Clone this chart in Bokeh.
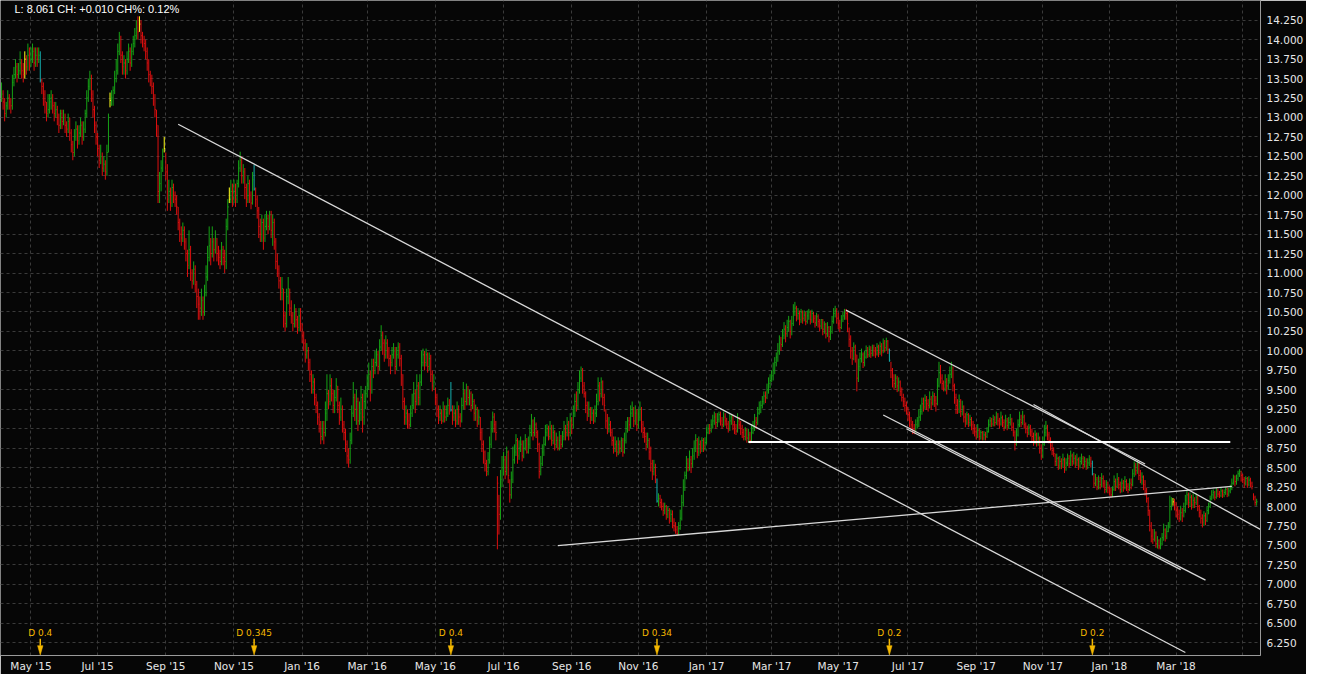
import numpy as np
import pandas as pd
from bokeh.plotting import figure
from bokeh.models import Range1d, FixedTicker, Label, NumeralTickFormatter, ColumnDataSource
from bokeh.embed import file_html
from bokeh.resources import INLINE
from bokeh.core.properties import value

# ---------------- data ----------------
first_date = "2015-04-06"

closes = [
    # Apr 2015
    13.30, 13.20, 13.05, 13.15, 13.25, 13.20, 13.15, 13.45, 13.55, 13.65, 13.55, 13.60, 13.70, 13.60, 13.55, 13.75, 13.65, 13.80, 13.70,
    # May 2015
    13.75, 13.85, 13.70, 13.80, 13.75, 13.80, 13.48, 13.40, 13.30, 13.20, 13.05, 13.10, 13.20, 13.25, 13.15, 13.05, 13.10, 13.00, 12.90, 13.05, 12.95,
    # Jun 2015
    13.00, 12.90, 12.85, 12.95, 12.80, 12.65, 12.55, 12.75, 12.85, 12.70, 12.80, 12.90, 12.75, 12.85, 13.05, 13.25, 13.40, 13.50, 13.30, 13.10, 12.90, 12.75,
    # Jul 2015
    12.60, 12.45, 12.50, 12.35, 12.40, 12.30, 12.55, 13.00, 13.22, 13.25, 13.35, 13.50, 13.60, 13.85, 14.00, 13.80, 13.65, 13.70, 13.60, 13.75, 13.85, 13.70, 13.85,
    # Aug 2015
    13.95, 14.05, 14.15, 14.10, 14.20, 14.05, 14.00, 13.95, 13.85, 13.70, 13.55, 13.50, 13.40, 13.25, 13.10, 12.90, 12.05, 12.15, 12.35, 12.50, 12.60,
    # Sep 2015
    12.30, 11.95, 12.05, 11.90, 12.10, 12.00, 11.95, 11.85, 11.65, 11.50, 11.45, 11.55, 11.40, 11.25, 11.10, 11.30, 11.00, 10.90, 11.05, 10.85, 10.70, 10.60,
    # Oct 2015
    10.55, 10.65, 10.50, 10.75, 10.95, 11.20, 11.35, 11.25, 11.40, 11.30, 11.45, 11.25, 11.20, 11.15, 11.30, 11.20, 11.15, 11.60, 11.85, 11.95, 12.05, 11.95,
    # Nov 2015
    12.05, 11.95, 12.15, 12.35, 12.45, 12.25, 12.30, 12.10, 11.95, 12.15, 12.00, 11.90, 12.20, 12.08, 11.95, 11.80, 11.60, 11.50, 11.65, 11.45, 11.60,
    # Dec 2015
    11.70, 11.60, 11.75, 11.55, 11.65, 11.40, 11.15, 11.05, 10.90, 10.75, 10.80, 10.45, 10.35, 10.70, 10.80, 10.55, 10.45, 10.35, 10.50, 10.40, 10.30, 10.45, 10.35,
    # Jan 2016
    10.20, 10.10, 9.95, 10.00, 9.85, 9.70, 9.55, 9.60, 9.40, 9.30, 9.15, 9.05, 8.90, 9.00, 8.95, 9.20, 9.45, 9.35, 9.55, 9.45, 9.30,
    # Feb 2016
    9.40, 9.55, 9.30, 9.15, 9.25, 9.05, 8.95, 8.80, 8.65, 8.60, 8.85, 9.20, 9.40, 9.25, 9.35, 9.10, 9.20, 9.40, 9.15, 9.35, 9.45,
    # Mar 2016
    9.55, 9.70, 9.50, 9.80, 9.75, 9.85, 9.95, 9.80, 10.05, 10.20, 10.10, 9.95, 10.10, 10.00, 9.90, 9.85, 9.95, 10.00, 9.80, 9.95, 10.05, 9.90, 9.70,
    # Apr 2016
    9.35, 9.15, 9.20, 9.10, 9.05, 9.20, 9.30, 9.45, 9.35, 9.55, 9.40, 9.60, 9.85, 9.95, 9.85, 9.95, 9.80, 9.90, 9.70, 9.55, 9.60,
    # May 2016
    9.40, 9.25, 9.15, 9.20, 9.10, 9.25, 9.15, 9.20, 9.30, 9.25, 9.24, 9.15, 9.20, 9.10, 9.25, 9.15, 9.10, 9.30, 9.45, 9.35, 9.50, 9.40,
    # Jun 2016
    9.45, 9.30, 9.35, 9.20, 9.25, 9.10, 9.15, 8.95, 8.80, 8.70, 8.55, 8.45, 8.60, 8.80, 9.00, 9.15, 9.05, 8.95, 8.30, 7.90, 8.35, 8.50,
    # Jul 2016
    8.60, 8.45, 8.70, 8.40, 8.15, 8.35, 8.60, 8.70, 8.85, 8.65, 8.75, 8.80, 8.65, 8.75, 8.85, 8.70, 8.80, 8.95, 9.10, 8.95, 9.05,
    # Aug 2016
    8.95, 8.80, 8.45, 8.55, 8.70, 8.80, 8.95, 9.00, 8.90, 9.00, 8.85, 8.95, 8.80, 8.85, 8.75, 8.85, 8.80, 8.90, 9.00, 8.95, 9.05, 8.95, 9.10,
    # Sep 2016
    9.05, 9.20, 9.35, 9.30, 9.50, 9.65, 9.75, 9.55, 9.45, 9.30, 9.20, 9.25, 9.15, 9.20, 9.10, 9.20, 9.35, 9.55, 9.45, 9.60, 9.40, 9.30,
    # Oct 2016
    9.10, 9.00, 9.05, 8.95, 8.85, 8.75, 8.80, 8.70, 8.80, 8.75, 8.85, 8.70, 8.85, 9.00, 9.10, 9.05, 9.20, 9.25, 9.10, 9.20, 9.05,
    # Nov 2016
    9.15, 9.25, 9.05, 8.95, 8.90, 8.80, 8.85, 8.70, 8.55, 8.45, 8.50, 8.40, 8.07, 8.10, 8.05, 8.00, 7.95, 8.00, 7.90, 7.95, 7.85, 7.90,
    # Dec 2016
    7.80, 7.75, 7.70, 7.65, 7.72, 7.85, 8.05, 8.25, 8.40, 8.55, 8.50, 8.60, 8.55, 8.65, 8.75, 8.85, 8.70, 8.80, 8.75, 8.85, 8.78, 8.82,
    # Jan 2017
    8.95, 9.00, 8.98, 9.05, 9.10, 9.15, 9.08, 9.12, 9.18, 9.10, 9.05, 9.15, 9.10, 9.06, 9.00, 9.10, 9.15, 9.05, 9.00, 8.97, 9.10, 9.05,
    # Feb 2017
    9.00, 8.95, 8.90, 8.98, 8.88, 8.92, 8.85, 8.95, 9.02, 9.10, 9.08, 9.20, 9.25, 9.30, 9.35, 9.42, 9.40, 9.50, 9.58, 9.62,
    # Mar 2017
    9.68, 9.75, 9.85, 9.92, 10.00, 10.10, 10.08, 10.20, 10.28, 10.22, 10.30, 10.38, 10.25, 10.35, 10.50, 10.55, 10.45, 10.48, 10.40, 10.50, 10.42, 10.46, 10.38,
    # Apr 2017
    10.45, 10.50, 10.40, 10.48, 10.42, 10.36, 10.44, 10.38, 10.32, 10.40, 10.28, 10.34, 10.22, 10.30, 10.18, 10.25, 10.38, 10.48, 10.52, 10.42,
    # May 2017
    10.35, 10.30, 10.40, 10.45, 10.50, 10.48, 10.35, 10.15, 10.00, 9.90, 10.05, 9.95, 9.65, 9.80, 9.90, 9.95, 9.85, 9.92, 10.00, 9.95, 10.02, 9.97, 10.04,
    # Jun 2017
    10.00, 9.96, 10.05, 9.98, 10.06, 10.00, 10.10, 10.04, 10.12, 10.02, 9.88, 9.75, 9.62, 9.58, 9.65, 9.55, 9.60, 9.48, 9.40, 9.35, 9.30, 9.25,
    # Jul 2017
    9.18, 9.10, 9.05, 9.00, 8.98, 9.05, 9.10, 9.15, 9.22, 9.32, 9.28, 9.36, 9.32, 9.30, 9.38, 9.33, 9.42, 9.36, 9.32, 9.55, 9.72,
    # Aug 2017
    9.65, 9.58, 9.52, 9.60, 9.55, 9.62, 9.70, 9.78, 9.55, 9.40, 9.30, 9.25, 9.35, 9.22, 9.28, 9.15, 9.10, 9.18, 9.08, 9.12, 9.05, 9.00, 8.96,
    # Sep 2017
    8.92, 8.98, 8.90, 8.95, 8.88, 8.92, 8.90, 8.96, 9.05, 9.10, 9.06, 9.12, 9.08, 9.15, 9.10, 9.06, 9.14, 9.08, 9.02, 9.10, 9.04,
    # Oct 2017
    9.08, 9.12, 9.02, 8.95, 8.80, 8.92, 9.05, 9.12, 9.08, 9.15, 9.05, 9.00, 8.95, 9.02, 8.96, 8.90, 8.85, 8.92, 8.82, 8.88, 8.75, 8.65,
    # Nov 2017
    8.80, 8.95, 9.02, 8.92, 8.85, 8.78, 8.72, 8.68, 8.58, 8.62, 8.52, 8.58, 8.55, 8.60, 8.50, 8.56, 8.62, 8.55, 8.65, 8.58, 8.62, 8.56,
    # Dec 2017
    8.60, 8.52, 8.58, 8.62, 8.54, 8.58, 8.52, 8.56, 8.60, 8.55, 8.42, 8.30, 8.35, 8.25, 8.32, 8.28, 8.36, 8.30, 8.22, 8.28, 8.24,
    # Jan 2018
    8.20, 8.15, 8.22, 8.32, 8.26, 8.35, 8.28, 8.22, 8.30, 8.25, 8.32, 8.26, 8.22, 8.30, 8.28, 8.42, 8.52, 8.46, 8.55, 8.40, 8.34, 8.38, 8.28,
    # Feb 2018
    8.20, 8.10, 7.95, 7.75, 7.62, 7.58, 7.66, 7.52, 7.56, 7.48, 7.52, 7.60, 7.70, 7.62, 7.68, 7.75, 8.00, 8.08, 8.06, 8.02,
    # Mar 2018
    7.95, 7.90, 7.85, 7.92, 7.88, 7.95, 8.08, 8.15, 8.05, 8.12, 8.02, 8.08, 8.05, 8.12, 8.00, 7.92, 7.85, 7.80, 7.88, 7.82, 7.95, 8.00,
    # Apr 2018
    8.10, 8.15, 8.18, 8.12, 8.20, 8.16, 8.14, 8.20, 8.15, 8.18, 8.22, 8.16, 8.20, 8.24, 8.30, 8.38, 8.32, 8.36, 8.42, 8.45, 8.40,
    # May 2018
    8.35, 8.30, 8.36, 8.28, 8.34, 8.30, 8.26, 8.12, 8.051, 8.061,
]

highs = [
    13.45, 13.35, 13.25, 13.20, 13.35, 13.30, 13.25, 13.55, 13.65, 13.75, 13.70, 13.70, 13.85, 13.75, 13.70, 13.85, 13.80, 13.95, 13.90,
    13.90, 13.95, 13.90, 13.90, 13.90, 13.90, 13.85, 13.50, 13.45, 13.35, 13.20, 13.30, 13.30, 13.35, 13.30, 13.20, 13.20, 13.15, 13.05, 13.10, 13.10,
    13.10, 13.05, 12.95, 13.05, 13.00, 12.85, 12.70, 12.85, 12.95, 12.90, 12.90, 13.00, 12.95, 12.95, 13.10, 13.35, 13.50, 13.60, 13.55, 13.35, 13.15, 12.95,
    12.80, 12.65, 12.65, 12.55, 12.50, 12.45, 12.65, 13.05, 13.32, 13.35, 13.40, 13.60, 13.75, 13.95, 14.10, 14.05, 13.85, 13.80, 13.75, 13.85, 13.95, 13.90, 13.95,
    14.05, 14.15, 14.25, 14.30, 14.30, 14.25, 14.10, 14.05, 14.00, 13.90, 13.75, 13.60, 13.55, 13.45, 13.30, 13.10, 12.90, 12.30, 12.45, 12.60, 12.75,
    12.55, 12.40, 12.20, 12.10, 12.20, 12.15, 12.05, 12.00, 11.85, 11.70, 11.60, 11.65, 11.60, 11.45, 11.30, 11.55, 11.35, 11.05, 11.15, 11.10, 10.90, 10.80,
    10.70, 10.80, 10.70, 10.85, 11.10, 11.35, 11.60, 11.45, 11.60, 11.45, 11.55, 11.45, 11.35, 11.30, 11.40, 11.35, 11.30, 11.70, 11.95, 12.10, 12.20, 12.15,
    12.20, 12.15, 12.20, 12.45, 12.56, 12.50, 12.40, 12.35, 12.15, 12.25, 12.20, 12.05, 12.30, 12.39, 12.10, 12.00, 11.85, 11.70, 11.75, 11.70, 11.75,
    11.80, 11.75, 11.80, 11.80, 11.75, 11.70, 11.45, 11.25, 11.10, 10.95, 10.95, 10.80, 10.50, 10.80, 10.95, 10.80, 10.65, 10.50, 10.60, 10.55, 10.45, 10.55, 10.55,
    10.35, 10.25, 10.15, 10.10, 10.05, 9.90, 9.75, 9.70, 9.65, 9.45, 9.35, 9.20, 9.10, 9.10, 9.10, 9.35, 9.70, 9.50, 9.70, 9.65, 9.50,
    9.50, 9.65, 9.55, 9.35, 9.40, 9.30, 9.10, 9.00, 8.85, 8.75, 8.95, 9.30, 9.60, 9.45, 9.50, 9.40, 9.35, 9.55, 9.45, 9.50, 9.55,
    9.70, 9.85, 9.75, 9.90, 9.90, 10.00, 10.03, 10.00, 10.15, 10.33, 10.25, 10.15, 10.20, 10.15, 10.05, 9.95, 10.05, 10.10, 10.05, 10.05, 10.11, 10.10, 9.95,
    9.70, 9.40, 9.30, 9.25, 9.20, 9.30, 9.45, 9.60, 9.50, 9.70, 9.60, 9.70, 10.00, 10.03, 10.00, 10.03, 9.98, 9.98, 9.95, 9.75, 9.70,
    9.53, 9.45, 9.30, 9.30, 9.25, 9.35, 9.30, 9.30, 9.40, 9.38, 9.60, 9.30, 9.30, 9.25, 9.35, 9.30, 9.20, 9.40, 9.60, 9.50, 9.58, 9.55,
    9.50, 9.48, 9.45, 9.38, 9.31, 9.28, 9.25, 9.15, 9.00, 8.85, 8.72, 8.60, 8.70, 8.90, 9.10, 9.22, 9.20, 9.10, 8.39, 8.15, 8.47, 8.65,
    8.70, 8.65, 8.77, 8.72, 8.35, 8.45, 8.77, 8.80, 8.93, 8.88, 8.85, 8.90, 8.85, 8.85, 8.93, 8.88, 8.90, 9.05, 9.19, 9.12, 9.15,
    9.08, 8.98, 8.82, 8.65, 8.80, 8.90, 9.05, 9.06, 9.04, 9.10, 9.05, 9.05, 8.98, 8.95, 8.90, 8.97, 8.92, 8.97, 9.10, 9.05, 9.15, 9.10, 9.20,
    9.15, 9.30, 9.45, 9.48, 9.60, 9.75, 9.80, 9.78, 9.60, 9.48, 9.35, 9.35, 9.28, 9.28, 9.25, 9.30, 9.45, 9.66, 9.60, 9.66, 9.62, 9.45,
    9.25, 9.19, 9.15, 9.10, 9.00, 8.90, 8.90, 8.85, 8.89, 8.85, 8.89, 8.88, 8.95, 9.10, 9.15, 9.15, 9.30, 9.35, 9.28, 9.30, 9.25,
    9.25, 9.35, 9.28, 9.10, 9.02, 8.95, 8.95, 8.88, 8.77, 8.60, 8.60, 8.55, 8.36, 8.17, 8.15, 8.10, 8.05, 8.05, 8.02, 8.00, 7.98, 7.96,
    7.95, 7.85, 7.80, 7.75, 7.80, 7.96, 8.15, 8.35, 8.45, 8.65, 8.62, 8.72, 8.65, 8.75, 8.85, 8.93, 8.88, 8.90, 8.85, 8.89, 8.88, 8.89,
    9.02, 9.06, 9.06, 9.12, 9.18, 9.22, 9.20, 9.20, 9.22, 9.22, 9.15, 9.22, 9.20, 9.14, 9.10, 9.19, 9.19, 9.18, 9.10, 9.06, 9.20, 9.15,
    9.10, 9.05, 9.00, 9.02, 9.00, 9.00, 8.96, 9.06, 9.10, 9.19, 9.15, 9.28, 9.35, 9.36, 9.42, 9.48, 9.48, 9.58, 9.66, 9.70,
    9.75, 9.85, 9.92, 9.98, 10.10, 10.20, 10.18, 10.28, 10.37, 10.33, 10.40, 10.45, 10.40, 10.45, 10.60, 10.63, 10.58, 10.55, 10.52, 10.54, 10.52, 10.52, 10.50,
    10.52, 10.54, 10.52, 10.53, 10.50, 10.46, 10.49, 10.47, 10.41, 10.41, 10.41, 10.38, 10.36, 10.37, 10.32, 10.32, 10.45, 10.55, 10.58, 10.55,
    10.49, 10.40, 10.46, 10.50, 10.54, 10.54, 10.50, 10.30, 10.20, 10.05, 10.11, 10.08, 9.95, 9.90, 9.98, 10.03, 9.98, 10.00, 10.07, 10.05, 10.07, 10.06, 10.08,
    10.08, 10.05, 10.10, 10.08, 10.12, 10.10, 10.16, 10.14, 10.17, 10.14, 10.03, 9.86, 9.78, 9.70, 9.70, 9.68, 9.66, 9.62, 9.53, 9.45, 9.40, 9.35,
    9.28, 9.22, 9.15, 9.10, 9.06, 9.12, 9.15, 9.25, 9.31, 9.40, 9.40, 9.44, 9.42, 9.38, 9.48, 9.42, 9.48, 9.46, 9.42, 9.65, 9.86,
    9.82, 9.70, 9.62, 9.70, 9.65, 9.70, 9.80, 9.86, 9.80, 9.58, 9.45, 9.38, 9.44, 9.38, 9.36, 9.30, 9.20, 9.22, 9.20, 9.18, 9.15, 9.10, 9.06,
    9.02, 9.06, 9.00, 8.98, 8.97, 8.97, 8.96, 9.02, 9.12, 9.15, 9.14, 9.18, 9.16, 9.22, 9.20, 9.14, 9.22, 9.17, 9.12, 9.18, 9.14,
    9.15, 9.19, 9.14, 9.08, 8.98, 9.00, 9.12, 9.22, 9.18, 9.23, 9.18, 9.08, 9.04, 9.06, 9.05, 9.00, 8.95, 8.98, 8.95, 8.95, 8.90, 8.80,
    8.90, 9.05, 9.10, 9.05, 8.96, 8.89, 8.82, 8.76, 8.68, 8.68, 8.64, 8.65, 8.62, 8.68, 8.63, 8.62, 8.68, 8.66, 8.72, 8.68, 8.70, 8.66,
    8.68, 8.63, 8.64, 8.68, 8.65, 8.64, 8.62, 8.62, 8.66, 8.64, 8.59, 8.43, 8.42, 8.38, 8.40, 8.38, 8.43, 8.40, 8.34, 8.34, 8.32,
    8.26, 8.24, 8.26, 8.40, 8.36, 8.43, 8.38, 8.32, 8.36, 8.34, 8.39, 8.35, 8.30, 8.36, 8.36, 8.48, 8.58, 8.56, 8.59, 8.56, 8.47, 8.44, 8.40,
    8.34, 8.24, 8.12, 7.96, 7.80, 7.71, 7.71, 7.68, 7.62, 7.58, 7.60, 7.66, 7.78, 7.72, 7.76, 7.80, 8.14, 8.12, 8.11, 8.10,
    8.06, 8.00, 7.96, 8.01, 7.98, 8.05, 8.15, 8.20, 8.18, 8.18, 8.15, 8.17, 8.12, 8.17, 8.14, 8.02, 7.96, 7.90, 7.94, 7.92, 8.00, 8.05,
    8.14, 8.21, 8.22, 8.20, 8.24, 8.23, 8.20, 8.24, 8.22, 8.22, 8.25, 8.24, 8.24, 8.28, 8.36, 8.41, 8.40, 8.41, 8.46, 8.48, 8.46,
    8.42, 8.38, 8.39, 8.38, 8.39, 8.37, 8.32, 8.17, 8.14, 8.10,
]

lows = [
    13.20, 13.10, 12.95, 13.00, 13.10, 13.10, 13.05, 13.10, 13.40, 13.50, 13.45, 13.50, 13.55, 13.50, 13.45, 13.50, 13.55, 13.60, 13.60,
    13.65, 13.70, 13.60, 13.65, 13.65, 13.70, 13.45, 13.30, 13.15, 13.05, 12.95, 13.00, 13.05, 13.10, 13.05, 12.95, 13.00, 12.90, 12.80, 12.85, 12.85,
    12.90, 12.80, 12.75, 12.80, 12.70, 12.55, 12.45, 12.50, 12.70, 12.60, 12.65, 12.75, 12.65, 12.70, 12.80, 13.00, 13.20, 13.35, 13.20, 13.00, 12.80, 12.65,
    12.50, 12.35, 12.40, 12.25, 12.30, 12.20, 12.25, 12.55, 13.13, 13.15, 13.15, 13.30, 13.45, 13.55, 13.80, 13.70, 13.55, 13.55, 13.50, 13.55, 13.70, 13.60, 13.65,
    13.80, 13.90, 14.00, 14.00, 14.10, 13.95, 13.90, 13.85, 13.75, 13.60, 13.45, 13.40, 13.30, 13.15, 13.00, 12.75, 11.90, 11.90, 12.05, 12.30, 12.55,
    12.20, 11.80, 11.90, 11.80, 11.85, 11.90, 11.85, 11.75, 11.55, 11.40, 11.35, 11.40, 11.30, 11.15, 10.95, 11.05, 10.90, 10.80, 10.85, 10.75, 10.55, 10.40,
    10.40, 10.45, 10.40, 10.45, 10.70, 10.90, 11.15, 11.10, 11.20, 11.15, 11.25, 11.15, 11.10, 11.05, 11.10, 11.10, 11.00, 11.05, 11.55, 11.90, 11.90, 11.85,
    11.90, 11.85, 11.90, 12.10, 12.30, 12.15, 12.15, 11.95, 11.85, 11.90, 11.90, 11.82, 11.88, 12.06, 11.85, 11.70, 11.45, 11.40, 11.40, 11.30, 11.40,
    11.55, 11.50, 11.55, 11.45, 11.35, 11.30, 11.05, 10.95, 10.80, 10.65, 10.65, 10.30, 10.25, 10.30, 10.60, 10.45, 10.35, 10.25, 10.30, 10.30, 10.22, 10.25, 10.25,
    10.10, 10.00, 9.85, 9.90, 9.75, 9.60, 9.45, 9.45, 9.30, 9.20, 9.05, 8.95, 8.80, 8.85, 8.80, 8.90, 9.10, 9.25, 9.30, 9.35, 9.20,
    9.20, 9.35, 9.20, 9.05, 9.10, 8.95, 8.85, 8.70, 8.55, 8.50, 8.55, 8.80, 9.15, 9.10, 9.05, 8.97, 9.05, 9.10, 8.95, 9.05, 9.25,
    9.40, 9.50, 9.35, 9.45, 9.65, 9.70, 9.80, 9.70, 9.75, 10.00, 9.95, 9.86, 9.90, 9.90, 9.80, 9.70, 9.80, 9.90, 9.70, 9.75, 9.90, 9.80, 9.55,
    9.25, 9.05, 9.05, 9.00, 9.00, 9.02, 9.15, 9.25, 9.20, 9.30, 9.30, 9.30, 9.55, 9.80, 9.75, 9.80, 9.72, 9.75, 9.60, 9.48, 9.50,
    9.30, 9.15, 9.06, 9.10, 9.06, 9.08, 9.08, 9.10, 9.15, 9.18, 9.22, 9.05, 9.10, 9.02, 9.05, 9.05, 9.02, 9.08, 9.25, 9.25, 9.30, 9.30,
    9.30, 9.22, 9.25, 9.10, 9.10, 9.02, 9.05, 8.85, 8.70, 8.55, 8.45, 8.39, 8.40, 8.55, 8.75, 8.95, 8.95, 8.85, 7.45, 7.64, 7.83, 8.25,
    8.40, 8.35, 8.40, 8.30, 8.05, 8.10, 8.30, 8.55, 8.65, 8.55, 8.60, 8.70, 8.58, 8.62, 8.72, 8.68, 8.68, 8.75, 8.90, 8.85, 8.90,
    8.88, 8.70, 8.36, 8.40, 8.52, 8.65, 8.78, 8.90, 8.85, 8.86, 8.78, 8.80, 8.72, 8.75, 8.72, 8.72, 8.74, 8.76, 8.85, 8.85, 8.90, 8.85, 8.90,
    8.93, 9.00, 9.15, 9.22, 9.25, 9.45, 9.60, 9.45, 9.40, 9.20, 9.10, 9.15, 9.06, 9.10, 9.06, 9.08, 9.15, 9.30, 9.35, 9.40, 9.30, 9.22,
    9.00, 8.93, 8.95, 8.90, 8.78, 8.68, 8.70, 8.64, 8.66, 8.68, 8.70, 8.64, 8.68, 8.81, 8.95, 8.97, 9.00, 9.15, 9.02, 9.05, 8.97,
    9.00, 9.10, 8.95, 8.88, 8.82, 8.72, 8.75, 8.60, 8.45, 8.34, 8.40, 8.30, 8.05, 8.00, 7.98, 7.95, 7.88, 7.90, 7.83, 7.85, 7.78, 7.80,
    7.72, 7.68, 7.65, 7.62, 7.63, 7.70, 7.82, 8.00, 8.20, 8.35, 8.45, 8.46, 8.43, 8.50, 8.60, 8.70, 8.62, 8.65, 8.68, 8.70, 8.70, 8.72,
    8.80, 8.93, 8.93, 8.95, 9.00, 9.05, 9.00, 9.02, 9.08, 9.04, 9.00, 9.02, 9.04, 9.00, 8.95, 8.97, 9.05, 8.98, 8.93, 8.92, 8.95, 9.00,
    8.92, 8.88, 8.85, 8.85, 8.82, 8.82, 8.81, 8.82, 8.93, 8.97, 9.00, 9.05, 9.18, 9.20, 9.26, 9.31, 9.33, 9.38, 9.45, 9.52,
    9.60, 9.62, 9.70, 9.80, 9.86, 9.95, 10.00, 10.05, 10.15, 10.11, 10.18, 10.25, 10.16, 10.20, 10.32, 10.45, 10.38, 10.40, 10.33, 10.36, 10.35, 10.38, 10.33,
    10.35, 10.40, 10.34, 10.36, 10.36, 10.30, 10.32, 10.30, 10.25, 10.28, 10.20, 10.22, 10.16, 10.18, 10.11, 10.14, 10.22, 10.35, 10.43, 10.35,
    10.28, 10.24, 10.28, 10.37, 10.40, 10.40, 10.24, 10.05, 9.90, 9.82, 9.88, 9.85, 9.48, 9.60, 9.75, 9.85, 9.78, 9.80, 9.90, 9.91, 9.92, 9.91, 9.93,
    9.93, 9.91, 9.94, 9.92, 9.95, 9.93, 9.97, 9.98, 10.00, 9.96, 9.86, 9.65, 9.53, 9.50, 9.52, 9.47, 9.48, 9.42, 9.35, 9.28, 9.22, 9.18,
    9.10, 9.02, 8.98, 8.93, 8.93, 8.95, 9.00, 9.02, 9.10, 9.18, 9.22, 9.25, 9.24, 9.22, 9.26, 9.24, 9.30, 9.28, 9.22, 9.30, 9.53,
    9.58, 9.50, 9.48, 9.48, 9.44, 9.50, 9.58, 9.65, 9.48, 9.32, 9.19, 9.19, 9.20, 9.15, 9.17, 9.08, 9.02, 9.05, 9.02, 9.03, 8.98, 8.93, 8.90,
    8.86, 8.88, 8.85, 8.86, 8.85, 8.85, 8.85, 8.88, 8.95, 9.02, 9.02, 9.03, 9.03, 9.05, 9.04, 9.00, 9.04, 9.02, 8.97, 9.00, 8.98,
    9.00, 9.04, 8.97, 8.90, 8.72, 8.78, 8.90, 9.02, 9.02, 9.05, 9.00, 8.94, 8.89, 8.92, 8.90, 8.84, 8.78, 8.80, 8.77, 8.78, 8.68, 8.60,
    8.62, 8.78, 8.90, 8.85, 8.81, 8.72, 8.66, 8.64, 8.52, 8.52, 8.47, 8.48, 8.48, 8.50, 8.43, 8.46, 8.52, 8.50, 8.52, 8.52, 8.54, 8.50,
    8.52, 8.47, 8.49, 8.54, 8.48, 8.50, 8.47, 8.48, 8.52, 8.50, 8.40, 8.24, 8.26, 8.21, 8.22, 8.22, 8.25, 8.24, 8.17, 8.18, 8.17,
    8.14, 8.11, 8.12, 8.20, 8.20, 8.24, 8.22, 8.17, 8.18, 8.19, 8.22, 8.20, 8.17, 8.20, 8.22, 8.26, 8.38, 8.40, 8.42, 8.34, 8.30, 8.28, 8.21,
    8.14, 8.05, 7.88, 7.68, 7.54, 7.52, 7.55, 7.47, 7.46, 7.45, 7.45, 7.50, 7.56, 7.55, 7.58, 7.67, 7.72, 7.95, 8.01, 7.95,
    7.86, 7.83, 7.80, 7.82, 7.80, 7.86, 7.92, 8.02, 7.98, 8.00, 7.96, 7.98, 7.98, 8.02, 7.94, 7.86, 7.78, 7.73, 7.75, 7.76, 7.80, 7.90,
    7.98, 8.08, 8.10, 8.08, 8.10, 8.12, 8.11, 8.12, 8.11, 8.12, 8.15, 8.12, 8.13, 8.17, 8.21, 8.28, 8.26, 8.28, 8.33, 8.38, 8.32,
    8.30, 8.24, 8.27, 8.24, 8.26, 8.25, 8.22, 8.08, 8.01, 8.01,
]

dividend_dates = ["2015-05-11", "2015-11-19", "2016-05-16", "2016-11-17", "2017-06-15", "2017-12-15"]
dividend_labels = ["D 0.4", "D 0.345", "D 0.4", "D 0.34", "D 0.2", "D 0.2"]
doji_dates = ["2015-04-27", "2015-07-13", "2015-08-07", "2015-08-31", "2015-10-28", "2018-02-27"]

# hand-drawn trend lines (start date, start price, end date, end price)
trend_start_dates = ["2015-09-11", "2017-05-08", "2017-10-24", "2017-06-09", "2017-06-30", "2017-02-08", "2016-08-19"]
trend_start_prices = [12.913, 10.525, 9.311, 9.176, 9.00, 8.828, 7.497]
trend_end_dates = ["2018-03-09", "2018-02-01", "2018-05-17", "2018-03-28", "2018-03-06", "2018-04-19", "2018-04-20"]
trend_end_prices = [6.124, 8.546, 7.699, 7.054, 7.19, 8.828, 8.259]
trend_widths = [1.3, 1.3, 1.3, 1.3, 1.3, 2.0, 1.3]

price_ticks = [6.25 + 0.25 * k for k in range(33)]

# ---------------- styling ----------------
BG = "#060606"
GREEN = "#16a316"
RED = "#dd0f0f"
CYAN = "#14b0b0"
YELLOW = "#ffff1a"
GOLD = "#f5b800"
LINE = "#d9d9d9"
GRID = "#3a3a3a"
AXIS = "#9a9a9a"
LABEL = "#e6e6e6"

FRAME_W = 1261
FRAME_H = 657

n = len(closes)
dates = pd.bdate_range(first_date, periods=n)


def bar_index(d):
    return len(pd.bdate_range(first_date, d)) - 1


idx = np.arange(n)
prev = [closes[0]] + closes[:-1]
colors = [GREEN if c >= p else RED for c, p in zip(closes, prev)]
div_idx = [bar_index(d) for d in dividend_dates]
for i in div_idx:
    colors[i] = CYAN
for d in doji_dates:
    colors[bar_index(d)] = YELLOW

src = ColumnDataSource(dict(x=idx, hi=highs, lo=lows, c=closes, xc=idx + 0.6, col=colors))

x_start, x_end = -0.673, 812.5
y_start, y_end = 6.0854, 14.5032
px_per_bar = FRAME_W / (x_end - x_start)

p = figure(width=1306, height=674, output_backend="svg", toolbar_location=None,
           x_range=Range1d(x_start, x_end), y_range=Range1d(y_start, y_end),
           y_axis_location="right",
           background_fill_color=BG, border_fill_color=BG,
           min_border_left=0, min_border_top=0, min_border_right=1306 - FRAME_W,
           min_border_bottom=674 - FRAME_H)
p.outline_line_color = None

# month ticks (every two months)
tick_idx, tick_lab = [], []
seen = set()
for i, d in enumerate(dates):
    key = (d.year, d.month)
    if key in seen:
        continue
    seen.add(key)
    if i == 0:
        continue
    if d.month % 2 == 1:
        tick_idx.append(int(i))
        tick_lab.append(d.strftime("%b '%y"))
overrides = {t: l for t, l in zip(tick_idx, tick_lab)}
overrides[tick_idx[-1]] = ""

p.xaxis.ticker = FixedTicker(ticks=tick_idx)
p.xaxis.major_label_overrides = overrides
p.yaxis.ticker = FixedTicker(ticks=price_ticks)
p.yaxis.formatter = NumeralTickFormatter(format="0.000")

for ax in (p.xaxis[0], p.yaxis[0]):
    ax.axis_line_color = AXIS
    ax.axis_line_width = 1
    ax.major_tick_line_color = None
    ax.minor_tick_line_color = None
    ax.major_tick_out = 0
    ax.major_tick_in = 0
    ax.minor_tick_out = 0
    ax.major_label_text_color = LABEL
    ax.major_label_text_font = "DejaVu Sans"
    ax.major_label_text_font_size = "10.5px"
p.xaxis.major_label_standoff = 4
p.yaxis.major_label_standoff = 6

p.xgrid.grid_line_color = GRID
p.xgrid.grid_line_dash = "3 3"
p.ygrid.grid_line_color = GRID
p.ygrid.grid_line_dash = "3 3"

# OHLC-style bars with close ticks
p.segment(x0="x", y0="lo", x1="x", y1="hi", line_color="col", line_width=1.0, source=src)
p.segment(x0="x", y0="c", x1="xc", y1="c", line_color="col", line_width=1.0, source=src)

# trend lines
for sd, sp, ed, ep, w in zip(trend_start_dates, trend_start_prices, trend_end_dates, trend_end_prices, trend_widths):
    col = "#ffffff" if w > 1.5 else LINE
    p.line([bar_index(sd), bar_index(ed)], [sp, ep], line_color=col, line_width=w)

# dividend markers (label / stem / head heights in price units, as on the source chart)
label_y = 6.370
arrow_top = 6.301
arrow_base = 6.212
arrow_tip = 6.092
half_w = 2.7 / px_per_bar
p.text(x=div_idx, y=[label_y] * len(div_idx), text=dividend_labels, text_align="center",
       text_baseline="middle", text_color=GOLD, text_font=value("DejaVu Sans"), text_font_size="9px")
p.segment(x0=div_idx, y0=[arrow_top] * len(div_idx), x1=div_idx, y1=[arrow_base] * len(div_idx),
          line_color=GOLD, line_width=1.5)
p.patches(xs=[[i - half_w, i + half_w, i] for i in div_idx],
          ys=[[arrow_base, arrow_base, arrow_tip] for _ in div_idx],
          fill_color=GOLD, line_color=GOLD, line_width=0.5)

# last value readout
chg = closes[-1] - closes[-2]
pct = chg / closes[-2] * 100
readout = f"L: {closes[-1]:.3f} CH: {chg:+.3f} CH%: {pct:.2f}%"
p.add_layout(Label(x=x_start + 14 / px_per_bar, y=y_end, y_offset=-2, text=readout, text_baseline="top",
                   text_color="#ffffff", text_font="Liberation Sans", text_font_size="11px"))

open("out.html", "w").write(file_html(p, INLINE))
